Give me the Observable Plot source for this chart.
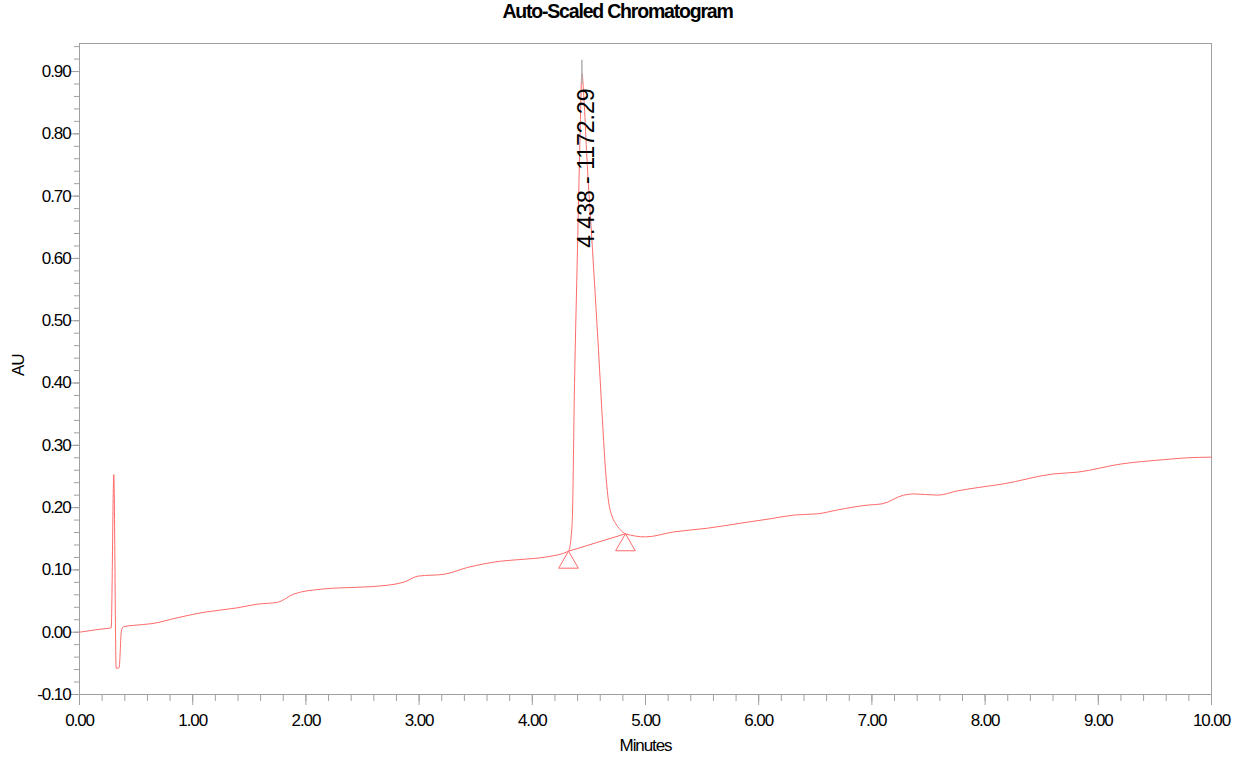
<!DOCTYPE html>
<html><head><meta charset="utf-8">
<script src="https://cdn.jsdelivr.net/npm/d3@7"></script>
<script src="https://cdn.jsdelivr.net/npm/@observablehq/plot@0.6"></script>
<style>
body{margin:0;background:#fff;}
#title{width:1235px;height:34px;line-height:36px;text-align:center;font:bold 19.5px "Liberation Sans",Arial,sans-serif;letter-spacing:-1.2px;color:#000;}
#chart svg text{letter-spacing:-1.1px}
</style></head><body>
<div id="title">Auto-Scaled Chromatogram</div>
<div id="chart"></div>
<script>
// Retention time (minutes) and absorbance (AU)
const minutes = [0.00,0.19,0.28,0.303,0.324,0.35,0.37,0.39,0.48,0.65,0.86,1.10,1.39,1.57,1.75,1.89,2.13,2.28,2.57,2.86,2.99,3.22,3.43,3.72,3.92,4.13,
  4.32,4.352,4.373,4.399,4.421,4.438,4.457,4.479,4.532,4.585,4.620,4.647,4.672,4.705,4.745,4.785,4.823,
  5.00,5.25,5.55,5.84,6.10,6.31,6.52,6.69,6.96,7.09,7.28,7.37,7.58,7.76,7.93,8.16,8.60,8.82,9.20,9.58,9.79,10.0];
const au = [0.000,0.005,0.007,0.253,-0.058,-0.057,0.002,0.009,0.011,0.014,0.023,0.032,0.039,0.045,0.048,0.061,0.069,0.071,0.073,0.080,0.090,0.093,0.104,0.114,0.117,0.121,
  0.130,0.174,0.399,0.613,0.789,0.897,0.854,0.773,0.613,0.452,0.339,0.260,0.212,0.186,0.172,0.163,0.158,
  0.153,0.161,0.167,0.175,0.182,0.188,0.190,0.196,0.204,0.206,0.220,0.222,0.220,0.227,0.232,0.238,0.254,0.257,0.270,0.277,0.280,0.281];

// Integrated peak
const peakTime = 4.438;
const peakHeight = 0.897;
const peakArea = 1172.29;
const peakBoundsTime = [4.32, 4.823];
const peakBoundsAU = [0.130, 0.158];

// Axis ticks
const xTicks = [0,1,2,3,4,5,6,7,8,9,10];
const xMinorTicks = d3.range(0, 50.5, 1).map(i => i / 5);
const yTicks = [-0.10,0.00,0.10,0.20,0.30,0.40,0.50,0.60,0.70,0.80,0.90];
const yMinorTicks = d3.range(-5, 48, 1).map(i => i / 50);

const trace = minutes.map((t, i) => ({t, v: au[i]}));
const bounds = peakBoundsTime.map((t, i) => ({t, v: peakBoundsAU[i]}));
const peak = [{t: peakTime, v: peakHeight, area: peakArea}];
const fmt = d => (Math.round(d * 100) / 100).toFixed(2);
const red = "#ff6a6a";
const gray = "#a0a0a0";

const chart = Plot.plot({
  width: 1243, height: 723,
  marginLeft: 79, marginRight: 32, marginTop: 9, marginBottom: 63,
  style: {fontFamily: '"Liberation Sans", Arial, sans-serif', fontSize: "17px", color: "#000", background: "#fff", overflow: "visible"},
  x: {domain: [0, 10], label: null},
  y: {domain: [-0.10, 0.945], label: null},
  marks: [
    Plot.axisY(yMinorTicks, {tickSize: 5, tickFormat: () => "", stroke: gray}),
    Plot.axisY(yTicks, {tickSize: 8, tickPadding: 1, tickFormat: fmt, stroke: gray, fill: "#000"}),
    Plot.axisX(xMinorTicks, {tickSize: 7, tickFormat: () => "", stroke: gray}),
    Plot.axisX(xTicks, {tickSize: 11, tickPadding: 8, tickFormat: fmt, stroke: gray, fill: "#000"}),
    Plot.frame({stroke: gray}),
    Plot.line(trace, {x: "t", y: "v", stroke: red, strokeWidth: 1, curve: "monotone-x"}),
    Plot.line(bounds, {x: "t", y: "v", stroke: red, strokeWidth: 1}),
    Plot.dot(bounds, {x: "t", y: "v", symbol: "triangle", r: 7.3, dy: 11.3, stroke: red, fill: "none", strokeWidth: 1}),
    Plot.ruleX(peak, {x: "t", y1: d => d.v - 0.018, y2: d => d.v + 0.021, stroke: "#b0b0b0", strokeWidth: 1.5}),
    Plot.text(peak, {x: "t", y: "v", text: d => `${d.t.toFixed(3)} - ${d.area.toFixed(2)}`, rotate: -90, textAnchor: "end", lineAnchor: "bottom", dx: 12, dy: 15, fontSize: 23, fill: "#000"}),
    Plot.text(["AU"], {text: d => d, frameAnchor: "left", dx: -61, dy: 7, rotate: -90, fontSize: 17, fill: "#000"}),
    Plot.text(["Minutes"], {text: d => d, frameAnchor: "bottom", dy: 56, fontSize: 17, fill: "#000"})
  ]
});
document.getElementById("chart").appendChild(chart);
chart.querySelectorAll("text").forEach(el => {
  if (el.textContent.includes("1172.29")) el.style.letterSpacing = "0px";
});
</script>
</body></html>
